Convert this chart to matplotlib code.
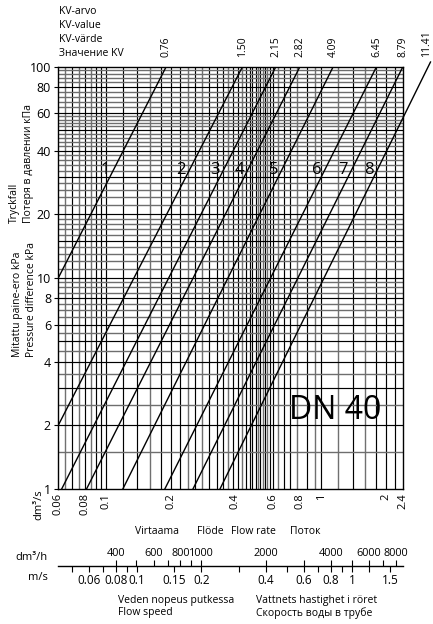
import numpy as np
import matplotlib
matplotlib.use('Agg')
from matplotlib import pyplot as plt
from matplotlib import ticker, transforms

# Kv lines, flow in dm3/s at 1 kPa and at the top end of each line
kv_labels = ['0.76', '1.50', '2.15', '2.82', '4.09', '6.45', '8.79', '11.41']
line_nums = ['1', '2', '3', '4', '5', '6', '7', '8']
flow_low = [0.0190, 0.0424, 0.0624, 0.0814, 0.120, 0.188, 0.254, 0.339]
flow_high = [0.191, 0.432, 0.617, 0.798, 1.139, 1.81, 2.40, 3.22]
dp_high = [100, 100, 100, 100, 100, 100, 100, 105]

# chart grid (dm3/s and kPa)
vgrid = [0.065, 0.07, 0.075, 0.08, 0.085, 0.09, 0.095, 0.1, 0.12, 0.14, 0.16,
         0.18, 0.2, 0.22, 0.24, 0.26, 0.28, 0.3, 0.33, 0.35, 0.37, 0.39, 0.41,
         0.43, 0.45, 0.465, 0.48, 0.5, 0.51, 0.52, 0.535, 0.55, 0.56, 0.58, 0.6,
         0.63, 0.67, 0.72, 0.77, 0.86, 0.94, 1.0, 1.2, 1.4, 1.6, 1.8, 2.0, 2.2]
vgrid_gray = [0.065, 0.075, 0.085, 0.16, 0.24, 0.28, 0.37, 0.43, 0.51, 0.535,
              0.56, 0.63, 0.77, 0.94, 1.2, 1.6]
hgrid = [1.5, 2, 2.5, 3, 3.5, 4, 4.5, 5, 5.5, 6, 6.5, 7, 7.5, 8, 8.5, 9, 9.5,
         10, 11, 12, 13, 14, 15, 16, 17, 18, 19, 20, 22, 24, 26, 28, 30, 32, 34,
         36, 38, 40, 42, 44, 46, 48, 50, 52, 54, 56, 58, 60, 64, 68, 72, 76, 80,
         84, 88, 92, 96]
hgrid_dark = [2, 3, 4, 5, 6, 8, 10, 15, 20, 30, 40, 50, 60, 80]

x_ticks = [0.06, 0.08, 0.1, 0.2, 0.4, 0.6, 0.8, 1, 2, 2.4]
x_ticklabels = ['0.06', '0.08', '0.1', '0.2', '0.4', '0.6', '0.8', '1', '2', '2.4']
y_ticks = [1, 2, 4, 6, 8, 10, 20, 40, 60, 80, 100]

# lower scale
flow_h_ticks = [400, 600, 800, 1000, 2000, 4000, 6000, 8000]
flow_h_minor = [500, 700, 900, 3000, 5000, 7000]
speed_ticks = [0.06, 0.08, 0.1, 0.15, 0.2, 0.4, 0.6, 0.8, 1, 1.5]
speed_labels = ['0.06', '0.08', '0.1', '0.15', '0.2', '0.4', '0.6', '0.8', '1', '1.5']
speed_minor = [0.05, 0.07, 0.09, 0.3, 0.5, 0.7, 0.9, 1.2]
pipe_area = 1.389  # dm3/s per m/s, DN 40

W, H = 433., 624.


def fx(px):
    return px / W


def fy(py):
    return 1 - py / H


def main():
    plt.rcParams['font.family'] = ['Open Sans', 'DejaVu Sans']
    fig = plt.figure(figsize=(W / 100, H / 100), dpi=100)

    ax = fig.add_axes([fx(58), fy(489), fx(403) - fx(58), fy(66.5) - fy(489)])
    ax.set_xscale('log')
    ax.set_yscale('log')
    ax.set_xlim(0.06, 2.4)
    ax.set_ylim(1, 100)

    for v in vgrid:
        gray = v in vgrid_gray
        ax.axvline(v, color='#707070' if gray else 'black',
                   lw=1.0 if gray else 0.85, zorder=1)
    for h in hgrid:
        dark = h in hgrid_dark
        ax.axhline(h, color='black' if dark else '#6e6e6e',
                   lw=0.85 if dark else 1.0, zorder=1)

    top = transforms.blended_transform_factory(ax.transData, ax.transAxes)
    for lo, hi, dp, kv, num in zip(flow_low, flow_high, dp_high, kv_labels, line_nums):
        outside = dp > 100
        ax.plot([lo, hi], [1, dp], color='black', lw=1.0, zorder=3,
                clip_on=not outside)
        ax.annotate(kv, (hi, 1.022), xycoords=top,
                    xytext=(-3 if outside else 0, 0), textcoords='offset points',
                    rotation=90, ha='center', va='bottom', fontsize=7.5)
        k = np.log(hi / lo) / np.log(dp)
        q = lo * 32.4 ** k
        ax.annotate(num, (q, 32.4), xytext=(-6, 0), textcoords='offset points',
                    ha='center', va='center', fontsize=12, zorder=4)

    ax.text(1.16, 2.35, 'DN 40', ha='center', va='center', fontsize=23, zorder=4)

    ax.set_xticks(x_ticks, labels=x_ticklabels, rotation=90)
    ax.set_yticks(y_ticks, labels=[str(t) for t in y_ticks])
    ax.xaxis.set_minor_locator(ticker.NullLocator())
    ax.yaxis.set_minor_locator(ticker.NullLocator())
    ax.tick_params(axis='x', length=0, pad=3, labelsize=8)
    ax.tick_params(axis='y', direction='out', length=3, width=0.8, pad=2, labelsize=9)
    for s in ax.spines.values():
        s.set_linewidth(1.0)

    # header and axis texts
    for i, t in enumerate(['KV-arvo', 'KV-value', 'KV-värde', 'Значение KV']):
        fig.text(fx(59), fy(12 + 13.8 * i), t, ha='left', va='center', fontsize=7.5)
    fig.text(fx(14), fy(223), 'Tryckfall', rotation=90, ha='center', va='bottom', fontsize=7.5)
    fig.text(fx(28), fy(223), 'Потеря в давлении кПа', rotation=90, ha='center',
             va='bottom', fontsize=7.5)
    fig.text(fx(18), fy(357), 'Mitattu paine-ero kPa', rotation=90, ha='center',
             va='bottom', fontsize=7.5)
    fig.text(fx(31), fy(357), 'Pressure difference kPa', rotation=90, ha='center',
             va='bottom', fontsize=7.5)
    fig.text(fx(39), fy(505), 'dm³/s', rotation=90, ha='center', va='center', fontsize=8)
    for t, px in [('Virtaama', 157), ('Flöde', 210), ('Flow rate', 253), ('Поток', 305)]:
        fig.text(fx(px), fy(531), t, ha='center', va='center', fontsize=7.5)

    # lower scale: flow in dm3/h above, speed in m/s below
    rect = [fx(58), fy(565.7), fx(403) - fx(58), 0.0001]
    axb = fig.add_axes(rect)
    axb.set_xscale('log')
    axb.set_xlim(0.06, 2.4)
    axb.set_xticks([v * pipe_area for v in speed_ticks], labels=speed_labels)
    axb.set_xticks([v * pipe_area for v in speed_minor], minor=True)
    axb.xaxis.set_minor_formatter(ticker.NullFormatter())
    axb.tick_params(axis='x', which='both', direction='out', length=4, width=0.8,
                    pad=2, labelsize=8.5)
    axb.set_yticks([])
    for side in ['top', 'left', 'right']:
        axb.spines[side].set_visible(False)
    axb.spines['bottom'].set_linewidth(1.0)

    axt = fig.add_axes(rect)
    axt.set_xscale('log')
    axt.set_xlim(0.06, 2.4)
    axt.xaxis.tick_top()
    axt.set_xticks([h / 3600 for h in flow_h_ticks], labels=[str(h) for h in flow_h_ticks])
    axt.set_xticks([h / 3600 for h in flow_h_minor], minor=True)
    axt.xaxis.set_minor_formatter(ticker.NullFormatter())
    axt.tick_params(axis='x', which='both', direction='out', length=4, width=0.8,
                    pad=1, labelsize=7.8)
    axt.set_yticks([])
    axt.patch.set_visible(False)
    for s in axt.spines.values():
        s.set_visible(False)

    fig.text(fx(48), fy(558), 'dm³/h', ha='right', va='center', fontsize=8)
    fig.text(fx(48), fy(577), 'm/s', ha='right', va='center', fontsize=8)
    fig.text(fx(118), fy(600), 'Veden nopeus putkessa', ha='left', va='center', fontsize=7.5)
    fig.text(fx(118), fy(613), 'Flow speed', ha='left', va='center', fontsize=7.5)
    fig.text(fx(256), fy(600), 'Vattnets hastighet i röret', ha='left', va='center', fontsize=7.5)
    fig.text(fx(256), fy(613), 'Скорость воды в трубе', ha='left', va='center', fontsize=7.5)

    fig.savefig('out.png', dpi=100)


if __name__ == '__main__':
    main()
